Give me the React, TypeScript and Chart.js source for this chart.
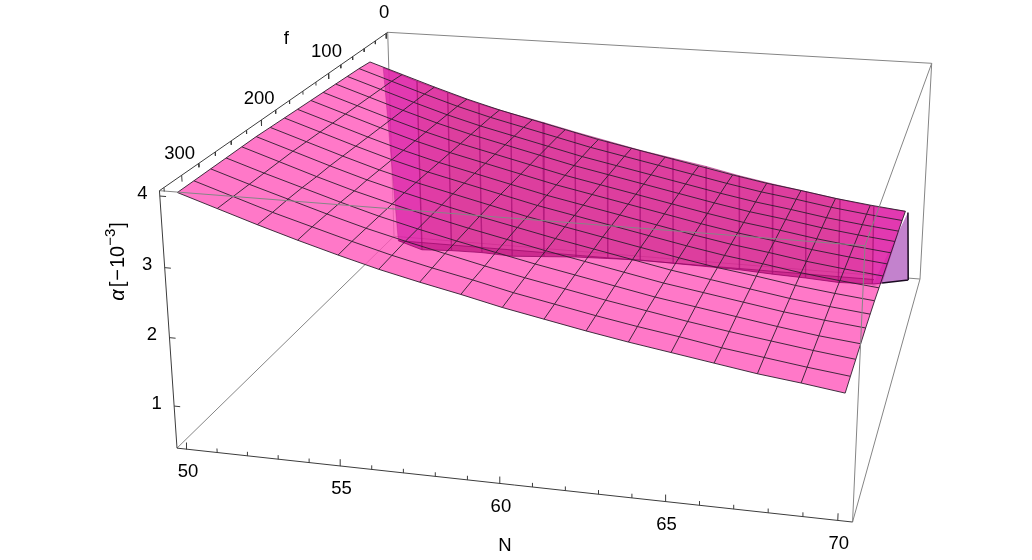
import React, { useEffect, useRef } from "react";
import { Chart, registerables } from "chart.js";

Chart.register(...registerables);

// ---- data ----
const nGrid = [50, 51.25, 52.5, 53.75, 55, 56.25, 57.5, 58.75, 60, 61.25, 62.5, 63.75, 65, 66.25, 67.5, 68.75, 70];
const fGrid = [45, 64, 84, 103, 123, 142, 162, 181, 201, 220, 239, 259, 278, 298, 317];
const alphaRows = [
  [3.89, 3.71, 3.53, 3.36, 3.21, 3.08, 2.95, 2.82, 2.71, 2.6, 2.49, 2.38, 2.28, 2.2, 2.11, 2.04, 1.98],
  [3.91, 3.73, 3.55, 3.38, 3.23, 3.1, 2.97, 2.84, 2.73, 2.62, 2.51, 2.4, 2.3, 2.22, 2.13, 2.06, 2.0],
  [3.92, 3.74, 3.56, 3.39, 3.24, 3.11, 2.98, 2.85, 2.74, 2.63, 2.52, 2.41, 2.31, 2.23, 2.14, 2.07, 2.01],
  [3.93, 3.75, 3.57, 3.4, 3.25, 3.12, 2.99, 2.86, 2.75, 2.64, 2.53, 2.42, 2.32, 2.24, 2.15, 2.08, 2.02],
  [3.94, 3.76, 3.58, 3.41, 3.26, 3.13, 3.0, 2.87, 2.76, 2.65, 2.54, 2.43, 2.33, 2.25, 2.16, 2.09, 2.03],
  [3.95, 3.77, 3.59, 3.42, 3.27, 3.14, 3.01, 2.88, 2.77, 2.66, 2.55, 2.44, 2.34, 2.26, 2.17, 2.1, 2.04],
  [3.96, 3.78, 3.6, 3.43, 3.28, 3.15, 3.02, 2.89, 2.78, 2.67, 2.56, 2.45, 2.35, 2.27, 2.18, 2.11, 2.05],
  [3.97, 3.79, 3.61, 3.44, 3.29, 3.16, 3.03, 2.9, 2.79, 2.68, 2.57, 2.46, 2.36, 2.28, 2.19, 2.12, 2.06],
  [3.98, 3.8, 3.62, 3.45, 3.3, 3.17, 3.04, 2.91, 2.8, 2.69, 2.58, 2.47, 2.37, 2.29, 2.2, 2.13, 2.07],
  [3.99, 3.81, 3.63, 3.46, 3.31, 3.17, 3.04, 2.92, 2.8, 2.69, 2.58, 2.47, 2.38, 2.29, 2.2, 2.13, 2.07],
  [3.99, 3.81, 3.63, 3.46, 3.31, 3.17, 3.04, 2.92, 2.8, 2.69, 2.58, 2.47, 2.38, 2.29, 2.2, 2.13, 2.07],
  [3.99, 3.81, 3.64, 3.47, 3.31, 3.17, 3.04, 2.92, 2.8, 2.69, 2.58, 2.47, 2.38, 2.29, 2.2, 2.12, 2.06],
  [3.99, 3.81, 3.64, 3.47, 3.31, 3.17, 3.04, 2.91, 2.79, 2.68, 2.57, 2.47, 2.37, 2.28, 2.2, 2.12, 2.05],
  [3.99, 3.81, 3.63, 3.47, 3.31, 3.16, 3.03, 2.91, 2.78, 2.67, 2.56, 2.46, 2.37, 2.27, 2.19, 2.11, 2.04],
  [3.99, 3.81, 3.63, 3.46, 3.3, 3.15, 3.02, 2.9, 2.77, 2.66, 2.55, 2.45, 2.36, 2.27, 2.18, 2.11, 2.03],
];
// the steep sheet at low f
const wallTopF = [22, 18, 20, 21, 21, 21, 22, 22, 22, 22, 22, 22, 21, 22, 23, 25, 45];
const wallTopZ = [3.63, 3.4, 3.25, 3.1, 2.97, 2.85, 2.73, 2.61, 2.49, 2.39, 2.29, 2.17, 2.06, 1.98, 1.9, 1.84, 1.98];
const wallFootN = [50, 51.25, 52.5, 53.75, 55, 56.25, 57.5, 58.75, 60, 61.25, 62.5, 63.75, 65, 66.25, 67.5, 68.75, 69.09];
const wallFootF = [4, 17, 19, 20, 22, 21, 20, 20, 19, 17, 15, 13, 12, 12, 14, 12, 9];
const wallFootZ = [0.37, 0.37, 0.42, 0.44, 0.44, 0.47, 0.5, 0.52, 0.53, 0.5, 0.47, 0.44, 0.4, 0.38, 0.37, 0.37, 0.37];
const floorF = [4, 4, 4, 4, 4, 4, 4, 4, 4, 4, 4, 4, 4, 4, 4, 4];
const floorZ = [0.37, 0.37, 0.37, 0.37, 0.37, 0.37, 0.37, 0.37, 0.37, 0.37, 0.37, 0.37, 0.37, 0.37, 0.37, 0.37];
const capN = [70, 70, 69.09, 68.75];
const capF = [27, 0, 9, 18];
const capZ = [1.8, 0.37, 0.37, 0.37];

const nMajor = [50, 55, 60, 65, 70];
const nMinor = [51, 52, 53, 54, 56, 57, 58, 59, 61, 62, 63, 64, 66, 67, 68, 69];
const fMajor = [0, 100, 200, 300];
const fMinor = [20, 40, 60, 80, 120, 140, 160, 180, 220, 240, 260, 280, 320];
const zMajor = [4, 3, 2, 1];

// ---- plot box and camera ----
const N_LO = 49.67, N_HI = 70.42;
const F_LO = -3, F_HI = 325;
const Z_LO = 0.374, Z_HI = 4.074;
const CAM = {
  x: [931.7, -518.8, -282.95, 20.5],
  y: [63.3, -28.9, 121.0, 225.5],
  h: [1, 0.065, -0.25, 0.035],
};
type P = { x: number; y: number };
function proj(n: number, f: number, z: number): P {
  const u = (N_HI - n) / (N_HI - N_LO);
  const v = (f - F_LO) / (F_HI - F_LO);
  const w = (Z_HI - z) / (Z_HI - Z_LO);
  const d = (c: number[]) => c[0] + c[1] * u + c[2] * v + c[3] * w;
  const h = d(CAM.h);
  return { x: d(CAM.x) / h, y: d(CAM.y) / h };
}
const GAP: P = { x: NaN, y: NaN };

function seg(list: P[][]): P[] {
  const out: P[] = [];
  list.forEach((s) => out.push(...s, GAP));
  return out;
}
function stroke(data: P[], color: string, width = 1) {
  return { type: "scatter", data, showLine: true, borderColor: color, borderWidth: width, pointRadius: 0, fill: false, spanGaps: false, tension: 0 };
}
function shape(data: P[], color: string) {
  return { type: "scatter", data, showLine: true, borderColor: "transparent", borderWidth: 0, backgroundColor: color, pointRadius: 0, fill: "shape", tension: 0 };
}

function buildDatasets() {
  const last = fGrid.length - 1;
  const main = (i: number, k: number) => proj(nGrid[i], fGrid[k], alphaRows[k][i]);
  const idxN = nGrid.map((_, i) => i);
  const idxF = fGrid.map((_, k) => k);
  const top = (i: number) => proj(i === 16 ? 70 : nGrid[i], wallTopF[i], wallTopZ[i]);
  const foot = (i: number) => proj(wallFootN[i], wallFootF[i], wallFootZ[i]);
  const floor = (i: number) => proj(nGrid[i], floorF[i], floorZ[i]);

  const GREY = "#858585";
  const AXIS = "#3c3c3c";
  const sets: any[] = [];

  // back edges of the box
  sets.push(stroke(seg([
    [proj(N_LO, F_LO, Z_HI), proj(N_HI, F_LO, Z_HI)],
    [proj(N_HI, F_LO, Z_HI), proj(N_HI, F_LO, Z_LO)],
    [proj(N_LO, F_LO, Z_HI), proj(N_LO, F_LO, Z_LO)],
    [proj(N_LO, F_LO, Z_LO), proj(N_HI, F_LO, Z_LO)],
    [proj(N_LO, F_HI, Z_LO), proj(N_LO, F_LO, Z_LO)],
    [proj(N_HI, F_HI, Z_LO), proj(N_HI, F_LO, Z_LO)],
  ]), GREY));

  // end cap
  sets.push(shape(capN.map((n, j) => proj(n, capF[j], capZ[j])), "rgb(195,130,205)"));

  // main sheet
  sets.push(shape([
    ...idxN.map((i) => main(i, 0)),
    ...idxF.map((k) => main(16, k)),
    ...idxN.slice().reverse().map((i) => main(i, last)),
    ...idxF.slice().reverse().map((k) => main(0, k)),
  ], "rgba(255,86,186,0.8)"));

  // steep sheet seen through it
  for (let i = 0; i < 16; i++) {
    const c = i === 0 || i === 15 ? "rgba(200,0,155,0.52)" : i === 1 || i === 14 ? "rgba(195,5,135,0.52)" : "rgba(190,10,120,0.52)";
    sets.push(shape([top(i), top(i + 1), foot(i + 1), foot(i)], c));
  }
  // floor band
  sets.push(shape([
    ...floorF.map((_, i) => floor(i)),
    ...wallFootN.slice(0, 16).map((_, i) => foot(15 - i)),
  ], "rgba(170,0,110,0.3)"));
  sets.push(stroke(floorF.map((_, i) => floor(i)), "rgba(140,0,95,0.6)"));
  sets.push(stroke(wallFootN.map((_, i) => foot(i)), "rgba(140,0,95,0.7)"));
  sets.push(stroke(wallTopF.map((_, i) => top(i)), "rgba(150,0,100,0.5)"));
  sets.push(stroke(seg(wallFootN.slice(1, 16).map((_, i) => [top(i + 1), foot(i + 1)])), "rgba(165,15,115,0.75)", 1.4));
  sets.push(stroke([top(0), foot(0)], "rgba(165,15,115,0.3)", 1));

  // cap outline
  sets.push(stroke(seg([
    [proj(capN[0], capF[0], capZ[0]), proj(capN[1], capF[1], capZ[1])],
    [proj(capN[1], capF[1], capZ[1]), proj(capN[2], capF[2], capZ[2])],
  ]), "#1a0a20", 1.5));

  // mesh on the main sheet
  sets.push(stroke(seg([
    ...idxF.map((k) => idxN.map((i) => main(i, k))),
    ...idxN.map((i) => idxF.map((k) => main(i, k))),
  ]), "rgba(45,30,45,0.9)", 1));

  // front edges of the box, in front of the sheets
  sets.push(stroke(seg([
    [proj(N_LO, F_HI, Z_HI), proj(N_HI, F_HI, Z_HI)],
    [proj(N_HI, F_HI, Z_HI), proj(N_HI, F_HI, Z_LO)],
    [proj(N_HI, F_HI, Z_HI), proj(N_HI, F_LO, Z_HI)],
  ]), GREY));

  // axes and ticks
  sets.push(stroke(seg([
    [proj(N_LO, F_HI, Z_LO), proj(N_HI, F_HI, Z_LO)],
    [proj(N_LO, F_HI, Z_HI), proj(N_LO, F_LO, Z_HI)],
    [proj(N_LO, F_HI, Z_HI), proj(N_LO, F_HI, Z_LO)],
    ...nMajor.map((n) => [proj(n, F_HI, Z_LO), proj(n, F_HI, Z_LO + 0.1)]),
    ...nMinor.map((n) => [proj(n, F_HI, Z_LO), proj(n, F_HI, Z_LO + 0.06)]),
    ...fMajor.map((f) => [proj(N_LO, f, Z_HI), proj(N_LO, f, Z_HI - 0.09)]),
    ...fMinor.map((f) => [proj(N_LO, f, Z_HI), proj(N_LO, f, Z_HI - 0.055)]),
    ...zMajor.map((z) => [proj(N_LO, F_HI, z), proj(N_LO + 0.2, F_HI, z)]),
  ]), AXIS));

  // first in the list is drawn on top
  return sets.reverse();
}

const FONT = '"Liberation Sans", Arial, sans-serif';
const textPlugin = {
  id: "labels3d",
  afterDraw(chart: any) {
    const { ctx, scales } = chart;
    const put = (s: string, p: P, dx: number, dy: number) => {
      ctx.fillText(s, scales.x.getPixelForValue(p.x) + dx, scales.y.getPixelForValue(p.y) + dy);
    };
    ctx.save();
    ctx.fillStyle = "#000";
    ctx.font = `18.5px ${FONT}`;
    ctx.textAlign = "center";
    ctx.textBaseline = "middle";
    nMajor.forEach((n) => put(String(n), proj(n, F_HI, Z_LO), 1, 23));
    fMajor.forEach((f) => put(String(f), proj(N_LO, f, Z_HI), -2, -21));
    zMajor.forEach((z) => put(String(z), proj(N_LO, F_HI, z), -17.5, -2.5));
    put("N", proj(60, F_HI, Z_LO), 5, 62);
    put("f", proj(N_LO, 150, Z_HI), -10, -57);

    // rotated z title
    const c = proj(N_LO, F_HI, 3);
    ctx.translate(scales.x.getPixelForValue(c.x) - 40.5, scales.y.getPixelForValue(c.y) + 33);
    ctx.rotate(-Math.PI / 2);
    ctx.textAlign = "left";
    ctx.textBaseline = "alphabetic";
    let at = 0;
    const run = (s: string, font: string, rise: number, gap: number) => {
      ctx.font = font;
      ctx.fillText(s, at, -rise);
      at += ctx.measureText(s).width + gap;
    };
    run("α", `italic 20px ${FONT}`, 0, 2);
    run("[", `20px ${FONT}`, 0, 1);
    run("−", `20px ${FONT}`, 0, 1);
    run("10", `20px ${FONT}`, 0, 0);
    run("−3", `15px ${FONT}`, 9, 1);
    run("]", `20px ${FONT}`, 0, 0);
    ctx.restore();
  },
};

export default function App() {
  const ref = useRef<HTMLCanvasElement>(null);
  useEffect(() => {
    const chart = new Chart(ref.current as HTMLCanvasElement, {
      type: "scatter",
      data: { datasets: buildDatasets() },
      options: {
        responsive: false,
        animation: false,
        layout: { padding: 0 },
        plugins: { legend: { display: false }, tooltip: { enabled: false } },
        events: [],
        scales: {
          x: { type: "linear", min: 0, max: 1032, display: false },
          y: { type: "linear", min: 0, max: 560, reverse: true, display: false },
        },
      },
      plugins: [textPlugin],
    } as any);
    return () => chart.destroy();
  }, []);
  return (
    <div style={{ position: "absolute", left: 0, top: 0, width: 1032, height: 560 }}>
      <canvas ref={ref} width={1032} height={560} style={{ display: "block" }} />
    </div>
  );
}
